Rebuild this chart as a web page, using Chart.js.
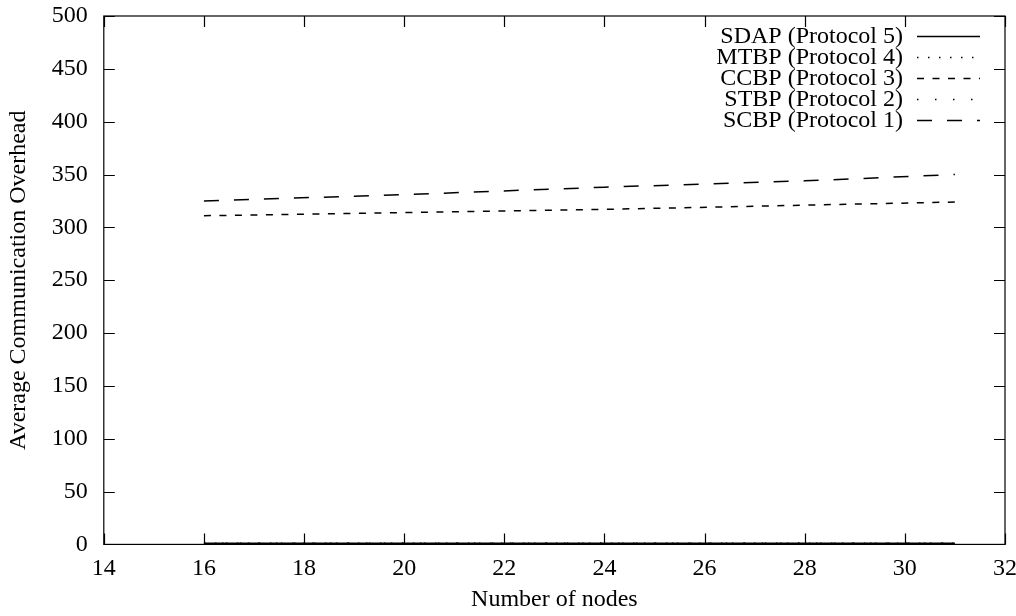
<!DOCTYPE html>
<html>
<head>
<meta charset="utf-8">
<script src="https://cdn.jsdelivr.net/npm/chart.js@4.4.1/dist/chart.umd.min.js"></script>
<style>
  html, body { margin: 0; padding: 0; background: #fff; }
  #wrap { width: 1016px; height: 616px; }
</style>
</head>
<body>
<div id="wrap"><canvas id="overheadChart"></canvas></div>
<script>
// Average communication overhead vs. number of nodes
const nodes = [16, 20, 24, 28, 31];
const sdap = [1, 1, 1, 1, 1];
const mtbp = [1, 1, 1, 1, 1];
const ccbp = [311, 314, 317, 321, 324];
const stbp = [1, 1, 1, 1, 1];
const scbp = [325, 331, 338, 344, 350];

const xTicks = [14, 16, 18, 20, 22, 24, 26, 28, 30, 32];
const yTicks = [0, 50, 100, 150, 200, 250, 300, 350, 400, 450, 500];

const FONT = '"Liberation Serif", "Times New Roman", serif';
const FSIZE = 24;

function pts(ys) {
  return nodes.map((x, i) => ({ x: x, y: ys[i] }));
}

function line(label, ys, dash) {
  return {
    label: label,
    data: pts(ys),
    borderColor: '#000',
    borderWidth: 1.5,
    borderDash: dash,
    pointRadius: 0,
    fill: false,
    clip: false,
  };
}

// gnuplot-style frame: border on all sides with ticks pointing inward
const framePlugin = {
  id: 'frame',
  afterDatasetsDraw(chart) {
    const { ctx, chartArea: a, scales } = chart;
    const len = 11;
    ctx.save();
    ctx.strokeStyle = '#000';
    ctx.lineWidth = 1.2;
    ctx.strokeRect(a.left, a.top, a.right - a.left, a.bottom - a.top);
    ctx.beginPath();
    xTicks.forEach(v => {
      const px = Math.round(scales.x.getPixelForValue(v)) + 0.5;
      ctx.moveTo(px, a.bottom); ctx.lineTo(px, a.bottom - len);
      ctx.moveTo(px, a.top); ctx.lineTo(px, a.top + len);
    });
    yTicks.forEach(v => {
      const py = Math.round(scales.y.getPixelForValue(v)) + 0.5;
      ctx.moveTo(a.left, py); ctx.lineTo(a.left + len, py);
      ctx.moveTo(a.right, py); ctx.lineTo(a.right - len, py);
    });
    ctx.stroke();
    ctx.restore();
  }
};

// key in the top right corner, text right-aligned with a line sample
const keyPlugin = {
  id: 'key',
  afterDatasetsDraw(chart) {
    const { ctx, chartArea: a } = chart;
    const textRight = a.right - 102;
    const x0 = a.right - 88, x1 = a.right - 25;
    ctx.save();
    ctx.font = FSIZE + 'px ' + FONT;
    ctx.textAlign = 'right';
    ctx.textBaseline = 'middle';
    ctx.fillStyle = '#000';
    chart.data.datasets.forEach((ds, i) => {
      const y = a.top + 20 + i * 21;
      ctx.fillText(ds.label, textRight, y + 1);
      ctx.beginPath();
      ctx.setLineDash(ds.borderDash || []);
      ctx.strokeStyle = '#000';
      ctx.lineWidth = 1.5;
      ctx.moveTo(x0, y + 0.5);
      ctx.lineTo(x1, y + 0.5);
      ctx.stroke();
    });
    ctx.restore();
  }
};

const ctx = document.getElementById('overheadChart');
new Chart(ctx, {
  type: 'line',
  data: {
    datasets: [
      line('SDAP (Protocol 5)', sdap, []),
      line('MTBP (Protocol 4)', mtbp, [1.5, 9.5]),
      line('CCBP (Protocol 3)', ccbp, [7, 8.5]),
      line('STBP (Protocol 2)', stbp, [1.5, 16.5]),
      line('SCBP (Protocol 1)', scbp, [15, 15]),
    ]
  },
  options: {
    responsive: true,
    maintainAspectRatio: false,
    animation: false,
    layout: {
      padding: { left: 4, right: 11, top: 16, bottom: 2 },
    },
    plugins: {
      legend: { display: false },
      tooltip: { enabled: false },
    },
    scales: {
      x: {
        type: 'linear',
        min: 14,
        max: 32,
        afterBuildTicks: axis => { axis.ticks = xTicks.map(v => ({ value: v })); },
        // let the last label run past the right edge
        afterFit: axis => { axis.paddingRight = 0; },
        grid: { display: false },
        border: { display: false },
        ticks: {
          color: '#000',
          font: { family: FONT, size: FSIZE },
          padding: 2,
          maxRotation: 0,
        },
        title: {
          display: true,
          text: 'Number of nodes',
          color: '#000',
          font: { family: FONT, size: FSIZE },
          padding: { top: 0, bottom: 0 },
        },
      },
      y: {
        min: 0,
        max: 500,
        afterBuildTicks: axis => { axis.ticks = yTicks.map(v => ({ value: v })); },
        afterFit: axis => { axis.paddingTop = 0; axis.paddingBottom = 0; },
        grid: { display: false },
        border: { display: false },
        ticks: {
          color: '#000',
          font: { family: FONT, size: FSIZE },
          padding: 8,
        },
        title: {
          display: true,
          text: 'Average Communication Overhead',
          color: '#000',
          font: { family: FONT, size: FSIZE },
          padding: { top: 0, bottom: 11 },
        },
      },
    },
  },
  plugins: [framePlugin, keyPlugin],
});
</script>
</body>
</html>
